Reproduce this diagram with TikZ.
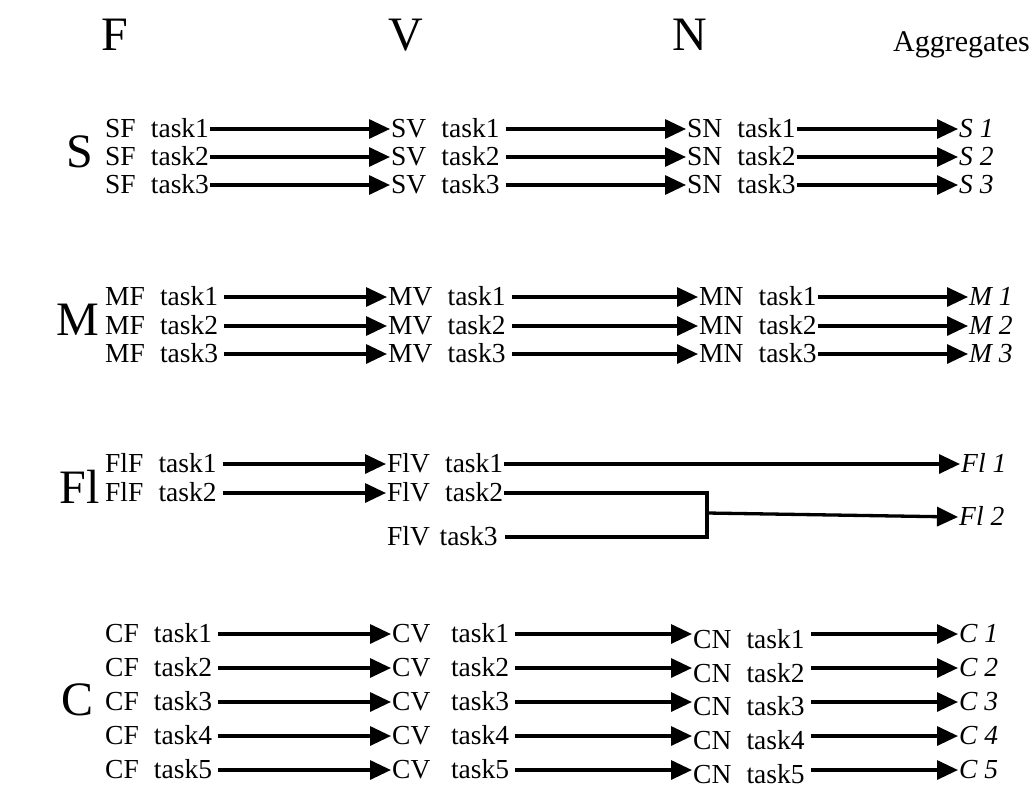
\documentclass[tikz,border=0pt]{standalone}
\usepackage{fontspec}
\setmainfont{Liberation Serif}
\usetikzlibrary{arrows.meta}
\newcommand{\tk}[2]{#1\hspace{0.55em}task#2}
\begin{document}
\begin{tikzpicture}[x=1pt,y=-1pt,
  lbl/.style={font=\fontsize{27.5}{32}\selectfont, inner sep=1pt, anchor=west, text height=17pt, text depth=0pt},
  agg/.style={lbl, font=\fontsize{27.5}{32}\selectfont\itshape},
  hdr/.style={font=\fontsize{48}{56}\selectfont, inner sep=0pt, anchor=base},
  grp/.style={font=\fontsize{48}{56}\selectfont, inner sep=0pt},
  conn/.style={line width=3.3pt, -{Triangle[length=21pt,width=19pt]}},
  link/.style={line width=3.3pt},
  gp/.style={shorten <=5pt}
]
\useasboundingbox (0,0) rectangle (1033,790);
% headers
\node[hdr] (hF) at (115,50) {F};
\node[hdr] (hV) at (406,50) {V};
\node[hdr] (hN) at (690,50) {N};
\node[font=\fontsize{30}{34}\selectfont, inner sep=0pt, anchor=base east] (hA) at (1030,51) {Aggregates};
% group labels
\node[grp] (gS) at (80,152) {S};
\node[grp] (gM) at (78,320) {M};
\node[grp] (gFl) at (80,487) {Fl};
\node[grp] (gC) at (78,700) {C};
% S
\foreach \i/\y in {1/129,2/157,3/185}{
  \node[lbl] (sf\i) at (104,\y) {\tk{SF}{\i}};
  \node[lbl] (sv\i) at (390,\y) {\tk{SV}{\i}};
  \node[lbl] (sn\i) at (686,\y) {\tk{SN}{\i}};
  \node[agg] (s\i) at (958,\y) {S \i};
  \draw[conn] (sf\i) -- (sv\i);
  \draw[conn,gp] (sv\i) -- (sn\i);
  \draw[conn] (sn\i) -- (s\i);
}
% M
\foreach \i/\y in {1/297,2/326,3/354}{
  \node[lbl] (mf\i) at (104,\y) {\tk{MF}{\i}};
  \node[lbl] (mv\i) at (387,\y) {\tk{MV}{\i}};
  \node[lbl] (mn\i) at (698,\y) {\tk{MN}{\i}};
  \node[agg] (m\i) at (968,\y) {M \i};
  \draw[conn,gp] (mf\i) -- (mv\i);
  \draw[conn,gp] (mv\i) -- (mn\i);
  \draw[conn] (mn\i) -- (m\i);
}
% Fl
\node[lbl] (flf1) at (104,464) {\tk{FlF}{1}};
\node[lbl] (flv1) at (386,464) {\tk{FlV}{1}};
\node[agg] (fl1) at (960,464) {Fl 1};
\node[lbl] (flf2) at (104,493) {\tk{FlF}{2}};
\node[lbl] (flv2) at (386,493) {\tk{FlV}{2}};
\node[lbl] (flv3) at (386,537) {FlV\hspace{0.35em}task3};
\coordinate (j) at (707,513);
\node[agg] (fl2) at (958,517) {Fl 2};
\draw[conn,gp] (flf1) -- (flv1);
\draw[conn] (flv1) -- (fl1);
\draw[conn,gp] (flf2) -- (flv2);
\draw[link] (flv2.east) -| (j) |- ([xshift=6pt]flv3.east);
\draw[conn] (j) -- (fl2.west);
% C
\foreach \i/\y/\yn in {1/634/640,2/668/674,3/702/707,4/736/741,5/770/775}{
  \node[lbl] (cf\i) at (104,\y) {\tk{CF}{\i}};
  \node[lbl] (cv\i) at (391,\y) {CV\hspace{0.75em}task\i};
  \node[lbl] (cn\i) at (692,\yn) {\tk{CN}{\i}};
  \node[agg] (c\i) at (958,\y) {C \i};
  \draw[conn,gp] (cf\i) -- (cv\i);
  \draw[conn,gp] (cv\i.east) -- (cv\i.east -| cn\i.west);
  \draw[conn,gp] (cn\i.east |- c\i.west) -- (c\i.west);
}
\end{tikzpicture}
\end{document}
